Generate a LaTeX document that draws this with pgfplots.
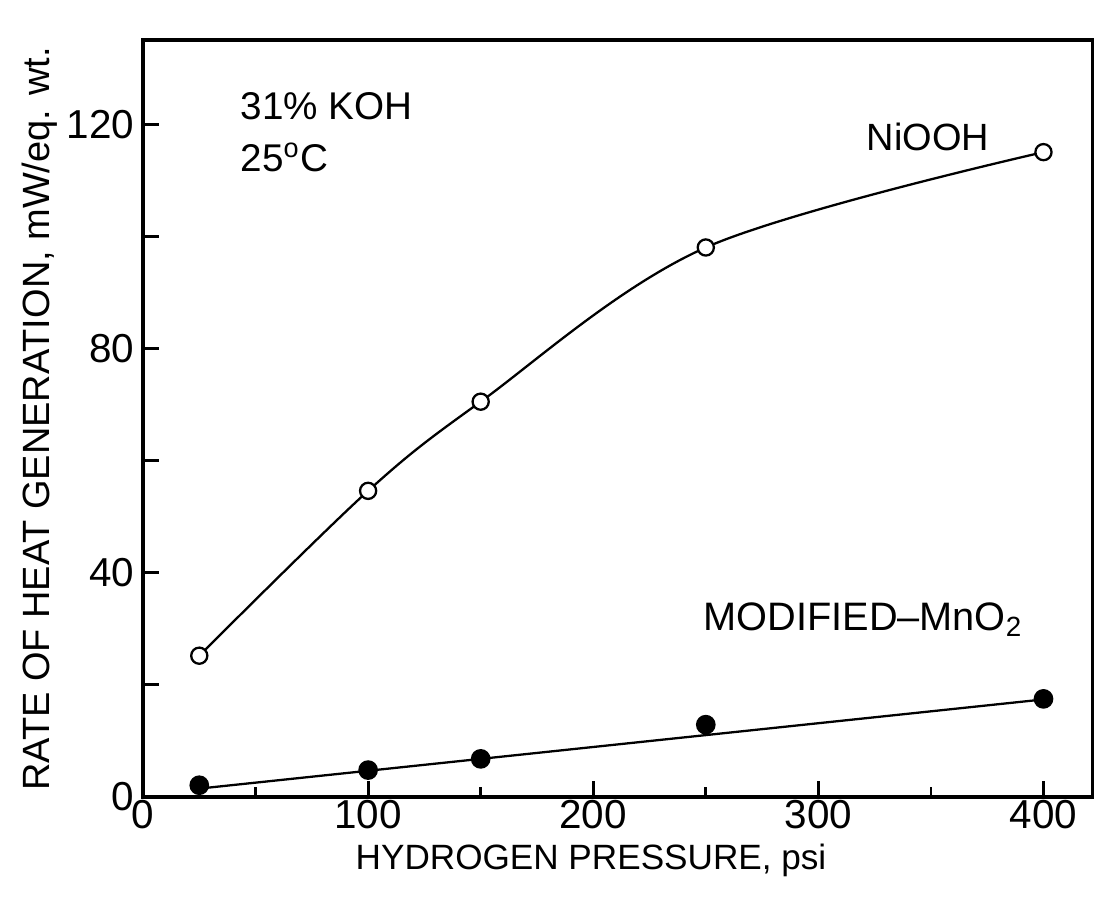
\documentclass[border=0pt]{standalone}
\usepackage{fontspec}
\setmainfont{Liberation Sans}
\usepackage{pgfplots}
\pgfplotsset{compat=1.18}

\begin{document}
\begin{tikzpicture}
\begin{axis}[
  scale only axis,
  width=9.5cm, height=7.57cm,
  xmin=0, xmax=422,
  ymin=0, ymax=135,
  axis line style={line width=0.9pt},
  tick style={line width=0.8pt, black},
  major tick length=0.16cm,
  minor tick length=0.1cm,
  tick align=inside,
  xtick={0,100,...,400},
  minor xtick={50,150,250,350},
  ytick={0,20,...,120},
  yticklabels={0,,40,,80,,120},
  xtick pos=bottom, ytick pos=left,
  ticklabel style={font=\fontsize{11.5}{14}\selectfont},
  /pgf/number format/assume math mode=true,
  xticklabel style={yshift=2.5pt},
  yticklabel style={xshift=1pt},
  xlabel={HYDROGEN PRESSURE, psi},
  ylabel={RATE OF HEAT GENERATION, mW/eq. wt.},
  xlabel style={font=\fontsize{10}{12}\selectfont,
    at={(axis description cs:0.4716,-0.0832)}, anchor=center},
  ylabel style={font=\fontsize{10.8}{12}\selectfont,
    at={(axis description cs:-0.1084,0.4993)}, anchor=center},
  clip=false,
]
% NiOOH
\addplot[line width=0.65pt, smooth, tension=0.55, mark=*, mark size=2.3pt,
  mark options={fill=white, line width=0.65pt}] coordinates {
  (25,25.2) (100,54.6) (150,70.5) (250,98) (400,115)
};
% modified MnO2 points
\addplot[only marks, mark=*, mark size=2.6pt, fill=black] coordinates {
  (25,2.1) (100,4.8) (150,6.8) (250,12.9) (400,17.5)
};
% fitted line
\addplot[line width=0.65pt, no marks] coordinates {
  (25,1.5) (400,17.4)
};
\node[anchor=west, font=\fontsize{11}{12}\selectfont] at (axis cs:37.8,123.2) {31\% KOH};
\node[anchor=west, font=\fontsize{11}{12}\selectfont] at (axis cs:37.8,114.1) {25\textsuperscript{o}C};
\node[anchor=west, font=\fontsize{10.8}{12}\selectfont] at (axis cs:316,117.7) {NiOOH};
\node[anchor=west, font=\fontsize{11.3}{12}\selectfont] at (axis cs:243.5,31.6) {MODIFIED--MnO\textsubscript{2}};
\end{axis}
\pgfresetboundingbox
\path (current axis.south west) ++(-1.43cm,-1.09cm) rectangle ([xshift=0.01cm,yshift=0.40cm]current axis.north east);
\end{tikzpicture}
\end{document}
